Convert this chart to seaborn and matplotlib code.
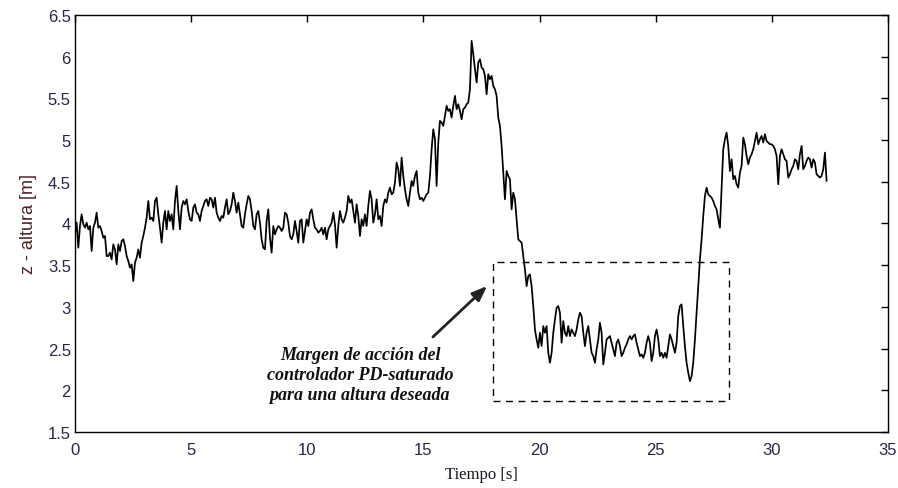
import numpy as np
import pandas as pd
import matplotlib
matplotlib.use("Agg")
import matplotlib.pyplot as plt
import seaborn as sns
from matplotlib.patches import Rectangle

# Sample period of the altitude record [s]
dt = 0.07174

# Measured altitude z [m], one value per sample
altura = [
    # 0 - 11.6 s
    3.87, 4.01, 3.71, 3.97, 4.11, 3.99, 3.95, 4.01, 3.93, 3.97,
    3.67, 3.95, 4.01, 4.13, 3.95, 3.97, 3.91, 3.83, 3.85, 3.61,
    3.61, 3.65, 3.57, 3.75, 3.69, 3.51, 3.75, 3.67, 3.79, 3.81,
    3.73, 3.61, 3.55, 3.47, 3.51, 3.31, 3.53, 3.59, 3.69, 3.59,
    3.77, 3.85, 3.95, 4.07, 4.27, 4.05, 4.07, 4.03, 4.27, 4.31,
    4.11, 3.95, 3.77, 4.01, 4.15, 3.93, 4.15, 4.03, 4.11, 3.93,
    4.27, 4.45, 4.15, 3.93, 4.19, 4.27, 4.23, 4.29, 4.15, 4.05,
    4.03, 4.19, 4.23, 4.13, 4.11, 4.03, 4.15, 4.21, 4.27, 4.29,
    4.21, 4.31, 4.29, 4.19, 4.31, 4.13, 4.07, 4.03, 4.09, 4.07,
    4.19, 4.29, 4.11, 4.15, 4.23, 4.37, 4.27, 4.13, 4.25, 4.11,
    3.97, 3.95, 4.11, 4.23, 4.33, 4.29, 4.15, 3.97, 3.93, 4.11,
    4.15, 4.01, 3.81, 3.71, 3.69, 4.03, 4.17, 3.83, 3.65, 3.97,
    3.87, 3.93, 3.97, 3.95, 3.91, 3.95, 4.13, 4.11, 4.01, 3.85,
    3.81, 3.87, 4.03, 3.91, 3.77, 4.03, 4.05, 3.77, 3.91, 4.05,
    3.97, 4.13, 4.17, 4.05, 3.95, 3.93, 3.89, 3.91, 3.95, 3.87,
    3.95, 3.81, 3.93, 3.97, 4.01, 4.13, 3.99, 3.71, 3.97, 4.15,
    4.05, 4.01, 4.07,
    # 11.7 - 19.5 s
    4.15, 4.33, 4.25, 4.29, 4.15, 4.01, 4.23, 4.09, 3.85, 4.05,
    3.97, 4.11, 3.97, 4.21, 4.39, 4.29, 4.01, 4.11, 4.29, 4.05,
    4.09, 3.97, 4.21, 4.29, 4.25, 4.37, 4.43, 4.35, 4.37, 4.49,
    4.73, 4.65, 4.45, 4.79, 4.57, 4.41, 4.29, 4.21, 4.37, 4.51,
    4.45, 4.57, 4.63, 4.37, 4.29, 4.31, 4.27, 4.31, 4.35, 4.37,
    4.57, 4.89, 5.13, 5.01, 4.45, 4.97, 5.23, 5.21, 5.17, 5.29,
    5.41, 5.35, 5.37, 5.27, 5.41, 5.53, 5.37, 5.43, 5.35, 5.25,
    5.37, 5.39, 5.43, 5.45, 5.61, 6.19, 6.03, 5.85, 5.69, 5.93,
    5.97, 5.87, 5.85, 5.77, 5.55, 5.79, 5.73, 5.77, 5.65, 5.61,
    5.53, 5.27, 5.17, 4.93, 4.61, 4.29, 4.63, 4.57, 4.53, 4.17,
    4.37, 4.29, 4.05, 3.81, 3.79, 3.77, 3.61, 3.45, 3.25, 3.37,
    # 19.6 - 32.4 s
    3.39, 3.25, 3.01, 2.73, 2.61, 2.51, 2.69, 2.53, 2.77, 2.69,
    2.77, 2.45, 2.33, 2.45, 2.69, 2.85, 2.99, 3.01, 2.93, 2.57,
    2.83, 2.69, 2.65, 2.77, 2.65, 2.73, 2.69, 2.65, 2.73, 2.85,
    2.93, 2.89, 2.69, 2.53, 2.69, 2.77, 2.61, 2.45, 2.41, 2.33,
    2.49, 2.61, 2.81, 2.69, 2.31, 2.45, 2.61, 2.63, 2.65, 2.57,
    2.49, 2.41, 2.57, 2.61, 2.53, 2.41, 2.45, 2.51, 2.55, 2.61,
    2.65, 2.61, 2.65, 2.67, 2.57, 2.49, 2.41, 2.43, 2.39, 2.45,
    2.57, 2.65, 2.57, 2.35, 2.45, 2.65, 2.73, 2.61, 2.41, 2.45,
    2.39, 2.45, 2.39, 2.53, 2.67, 2.61, 2.53, 2.45, 2.57, 2.89,
    3.01, 3.03, 2.77, 2.53, 2.33, 2.21, 2.11, 2.17, 2.33, 2.61,
    2.93, 3.25, 3.57, 3.81, 4.09, 4.33, 4.43, 4.35, 4.33, 4.31,
    4.27, 4.21, 4.17, 4.05, 3.95, 4.41, 4.89, 5.01, 5.09, 4.93,
    4.63, 4.77, 4.53, 4.57, 4.47, 4.43, 4.61, 4.69, 5.03, 4.95,
    4.81, 4.71, 4.79, 4.83, 4.89, 4.99, 5.09, 4.95, 5.01, 5.05,
    4.97, 5.07, 4.99, 4.97, 4.95, 4.95, 4.93, 4.89, 4.81, 4.47,
    4.81, 4.89, 4.83, 4.77, 4.75, 4.55, 4.59, 4.65, 4.69, 4.77,
    4.75, 4.65, 4.83, 4.93, 4.65, 4.69, 4.75, 4.79, 4.77, 4.67,
    4.77, 4.73, 4.59, 4.57, 4.55, 4.57, 4.65, 4.85, 4.51,
]

x_ticks = [0, 5, 10, 15, 20, 25, 30, 35]
y_ticks = [1.5, 2, 2.5, 3, 3.5, 4, 4.5, 5, 5.5, 6, 6.5]
y_tick_labels = ["1.5", "2", "2.5", "3", "3.5", "4", "4.5", "5", "5.5", "6", "6.5"]

# Region where the saturated PD controller acts
box_t = (18.0, 28.15)
box_z = (1.87, 3.54)
note = "Margen de acción del\ncontrolador PD-saturado\npara una altura deseada"

df = pd.DataFrame({"tiempo": np.arange(len(altura)) * dt, "altura": altura})

sns.set_style("white")
plt.rcParams["font.family"] = ["Liberation Sans", "DejaVu Sans"]

fig = plt.figure(figsize=(8.98, 4.89), dpi=100)
ax = fig.add_axes([0.0835, 0.1145, 0.9054, 0.8528])

sns.lineplot(data=df, x="tiempo", y="altura", ax=ax, color="black",
             linewidth=1.25, estimator=None, sort=False)

ax.set_xlim(0, 35)
ax.set_ylim(1.5, 6.5)
ax.set_xticks(x_ticks)
ax.set_xticklabels([str(v) for v in x_ticks])
ax.set_yticks(y_ticks)
ax.set_yticklabels(y_tick_labels)

tick_color = "#26264a"
ax.tick_params(axis="both", direction="in", length=5, width=1,
               top=True, right=True, labelsize=12, labelcolor=tick_color,
               colors="black")
ax.tick_params(axis="x", pad=7)
ax.tick_params(axis="y", pad=3)
for s in ax.spines.values():
    s.set_visible(True)
    s.set_color("black")
    s.set_linewidth(1.0)

ax.set_xlabel("Tiempo [s]", fontsize=12, family=["Liberation Serif"],
              color="#151525", labelpad=7)
ax.set_ylabel("z - altura [m]", fontsize=13, color="#4a2424", labelpad=8)

# Dashed frame around the controller action range
ax.add_patch(Rectangle((box_t[0], box_z[0]), box_t[1] - box_t[0],
                       box_z[1] - box_z[0], fill=False, edgecolor="black",
                       linestyle=(0, (5, 4)), linewidth=1.0))

ax.annotate("", xy=(17.74, 3.25), xytext=(15.41, 2.64),
            arrowprops=dict(arrowstyle="-|>,head_length=0.9,head_width=0.35",
                            color="#222222", linewidth=2.0,
                            shrinkA=0, shrinkB=0))

ax.text(12.27, 2.19, note, ha="center", va="center", fontsize=13,
        family=["Liberation Serif"], fontstyle="italic", fontweight="bold",
        color="#111111", linespacing=1.2)

ax.grid(False)
fig.savefig("out.png", dpi=100)
